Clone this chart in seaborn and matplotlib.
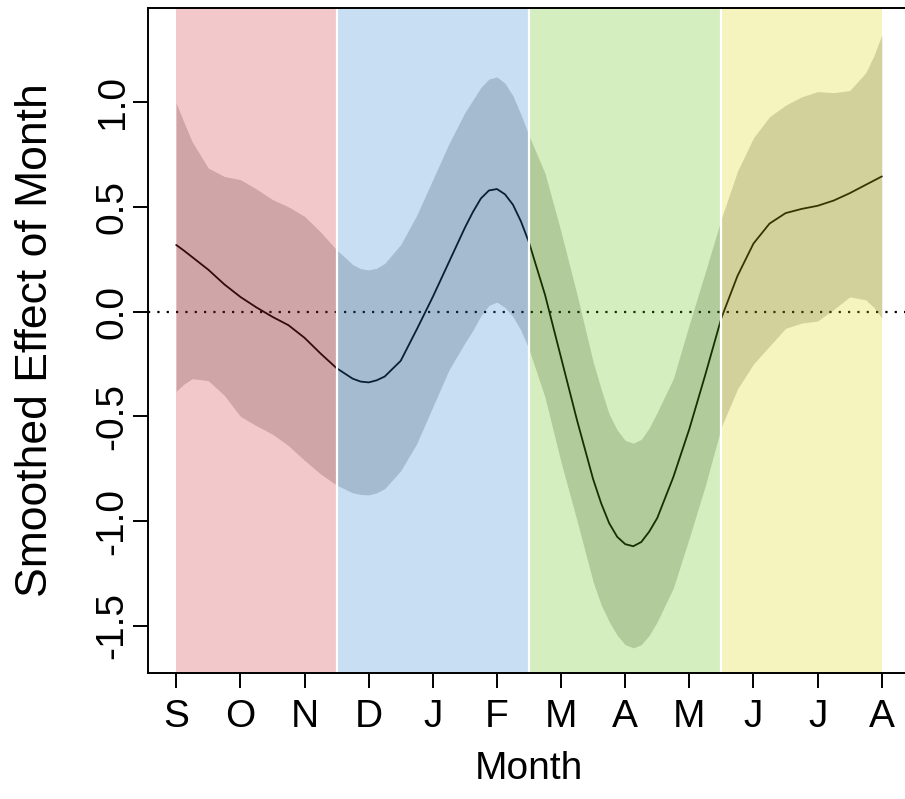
import numpy as np
import pandas as pd
import matplotlib
matplotlib.use("Agg")
import matplotlib.pyplot as plt
import seaborn as sns

# ---- data ----
month_labels = ["S", "O", "N", "D", "J", "F", "M", "A", "M", "J", "J", "A"]
month_pos = [0.0, 0.125, 0.25, 0.5, 0.75, 1.0, 1.25, 1.5, 1.75, 2.0, 2.25, 2.5,
             2.75, 2.875, 3.0, 3.125, 3.25, 3.5, 3.75, 4.0, 4.25, 4.5, 4.625, 4.75,
             4.875, 5.0, 5.125, 5.25, 5.375, 5.5, 5.75, 6.0, 6.25, 6.5, 6.625, 6.75,
             6.875, 7.0, 7.125, 7.25, 7.375, 7.5, 7.75, 8.0, 8.25, 8.5, 8.75, 9.0,
             9.25, 9.5, 9.75, 10.0, 10.25, 10.5, 10.75, 10.875, 11.0]
fit = [0.318, 0.29, 0.26, 0.20, 0.13, 0.07, 0.02, -0.025, -0.065, -0.125, -0.20, -0.27,
       -0.32, -0.334, -0.338, -0.328, -0.31, -0.235, -0.085, 0.07, 0.235, 0.40, 0.475, 0.54,
       0.578, 0.585, 0.56, 0.51, 0.43, 0.33, 0.08, -0.22, -0.52, -0.80, -0.915, -1.01,
       -1.075, -1.11, -1.12, -1.10, -1.05, -0.985, -0.79, -0.56, -0.30, -0.03, 0.17, 0.325,
       0.42, 0.47, 0.49, 0.505, 0.53, 0.565, 0.605, 0.625, 0.645]
upper = [0.995, 0.90, 0.81, 0.685, 0.645, 0.63, 0.585, 0.535, 0.50, 0.455, 0.38, 0.295,
         0.225, 0.205, 0.199, 0.207, 0.23, 0.32, 0.46, 0.63, 0.80, 0.95, 1.01, 1.07,
         1.11, 1.12, 1.09, 1.03, 0.94, 0.84, 0.66, 0.38, 0.08, -0.24, -0.37, -0.49,
         -0.565, -0.615, -0.628, -0.61, -0.555, -0.48, -0.32, -0.06, 0.19, 0.445, 0.67, 0.83,
         0.93, 0.985, 1.025, 1.05, 1.045, 1.055, 1.14, 1.22, 1.32]
lower = [-0.38, -0.345, -0.32, -0.33, -0.40, -0.50, -0.545, -0.585, -0.64, -0.71, -0.775, -0.828,
         -0.865, -0.873, -0.875, -0.865, -0.845, -0.76, -0.63, -0.455, -0.28, -0.15, -0.09, -0.02,
         0.03, 0.045, 0.02, -0.024, -0.09, -0.18, -0.41, -0.72, -1.00, -1.29, -1.40, -1.48,
         -1.545, -1.59, -1.605, -1.59, -1.545, -1.48, -1.32, -1.08, -0.83, -0.55, -0.37, -0.25,
         -0.165, -0.08, -0.055, -0.045, 0.01, 0.07, 0.056, 0.02, -0.03]
season_edges = [0, 2.5, 5.5, 8.5, 11]
season_colors = ["#cf272f", "#277fcf", "#57bf00", "#dbd703"]

df = pd.DataFrame({"month": month_pos, "fit": fit, "upper": upper, "lower": lower})

# ---- style ----
sns.set_style("white")
plt.rcParams["font.family"] = ["Liberation Sans", "DejaVu Sans"]

fig = plt.figure(figsize=(9.05, 7.99), dpi=100)
ax = fig.add_axes([148 / 905, 126 / 799, 762 / 905, 665 / 799])

ax.fill_between(df["month"], df["lower"], df["upper"], color="#d0d0d0", lw=0, zorder=1)
ax.axhline(0, color="black", lw=1.6, linestyle=(0, (1.0, 3.2)), zorder=2)
sns.lineplot(data=df, x="month", y="fit", color="black", lw=1.3, ax=ax, zorder=3)

for i in range(len(season_colors)):
    ax.axvspan(season_edges[i], season_edges[i + 1], color=season_colors[i],
               alpha=0.25, lw=0, zorder=4)
for e in season_edges[1:-1]:
    ax.axvline(e, color="white", lw=1.6, zorder=5)

ax.set_xlim(-0.44, 11.44)
ax.set_ylim(-1.725, 1.449)

ax.set_xticks(range(12))
ax.set_xticklabels(month_labels)
ax.set_yticks([-1.5, -1.0, -0.5, 0.0, 0.5, 1.0])
ax.set_yticklabels(["-1.5", "-1.0", "-0.5", "0.0", "0.5", "1.0"], rotation=90, va="center")

fs = 28
ax.tick_params(axis="both", direction="out", length=11, width=1.4, color="black",
               labelsize=fs, labelcolor="black", bottom=True, left=True)
ax.tick_params(axis="x", pad=8)
ax.tick_params(axis="y", pad=1.5)

ax.set_xlabel("Month", fontsize=fs, color="black")
ax.set_ylabel("Smoothed Effect of Month", fontsize=32, color="black")
ax.xaxis.label.set_va("center")
ax.yaxis.label.set_va("center")
ax.xaxis.set_label_coords(0.5, (673 - 769) / 665)
ax.yaxis.set_label_coords((36 - 148) / 762, 0.5)

for s in ax.spines.values():
    s.set_color("black")
    s.set_linewidth(1.4)
    s.set_visible(True)
    s.set_zorder(6)

fig.savefig("out.png", dpi=100, facecolor="white")
